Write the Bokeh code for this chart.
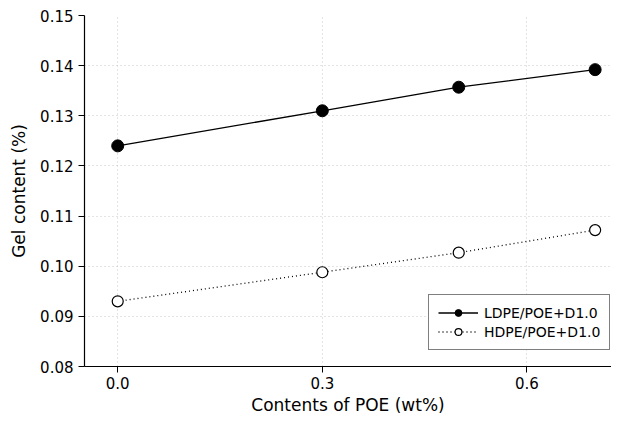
from bokeh.plotting import figure
from bokeh.models import Range1d, FixedTicker, Legend, LegendItem, PrintfTickFormatter
from bokeh.embed import file_html
from bokeh.resources import INLINE

x_vals = [0.0, 0.3, 0.5, 0.7]
ldpe = [0.124, 0.131, 0.1357, 0.1392]
hdpe = [0.093, 0.0988, 0.1027, 0.1072]
x_ticks = [0.0, 0.3, 0.6]
y_ticks = [0.08, 0.09, 0.10, 0.11, 0.12, 0.13, 0.14, 0.15]
labels = ["LDPE/POE+D1.0", "HDPE/POE+D1.0"]

FONT = "DejaVu Sans"

p = figure(width=611, height=417, output_backend="svg", toolbar_location=None,
           x_range=Range1d(-0.0487, 0.724), y_range=Range1d(0.08, 0.15),
           min_border_left=84, min_border_top=15, min_border_right=0, min_border_bottom=46)
p.outline_line_color = None
p.background_fill_color = "white"

for ax in (p.xaxis[0], p.yaxis[0]):
    ax.axis_line_color = "black"
    ax.axis_line_width = 1.2
    ax.major_tick_line_color = "black"
    ax.major_tick_out = 6
    ax.major_tick_in = 0
    ax.minor_tick_line_color = None
    ax.major_label_text_font = FONT
    ax.major_label_text_font_size = "15px"
    ax.major_label_text_color = "black"
    ax.axis_label_text_font = FONT
    ax.axis_label_text_font_size = "17px"
    ax.axis_label_text_font_style = "normal"
    ax.axis_label_text_color = "black"

p.xaxis.ticker = FixedTicker(ticks=x_ticks)
p.xaxis.formatter = PrintfTickFormatter(format="%.1f")
p.yaxis.ticker = FixedTicker(ticks=y_ticks)
p.yaxis.formatter = PrintfTickFormatter(format="%.2f")
p.xaxis.axis_label = "Contents of POE (wt%)"
p.yaxis.axis_label = "Gel content (%)"
p.xaxis.major_label_standoff = 4
p.xaxis.axis_label_standoff = 3
p.yaxis.major_label_standoff = 5
p.yaxis.axis_label_standoff = 8

p.grid.grid_line_color = "#c8c8c8"
p.grid.grid_line_dash = "1 3"
p.grid.grid_line_width = 1

l1 = p.line(x_vals, ldpe, line_color="black", line_width=1.3)
c1 = p.scatter(x_vals, ldpe, marker="circle", size=12, fill_color="black", line_color="black")
l2 = p.line(x_vals, hdpe, line_color="black", line_width=1.3, line_dash="1 3")
c2 = p.scatter(x_vals, hdpe, marker="circle", size=11, fill_color="white", line_color="black", line_width=1.2)

legend = Legend(items=[LegendItem(label=labels[0], renderers=[l1, c1]),
                       LegendItem(label=labels[1], renderers=[l2, c2])],
                location=(344, 16))
legend.label_text_font = FONT
legend.label_text_font_size = "14px"
legend.label_text_color = "black"
legend.border_line_color = "black"
legend.border_line_width = 1
legend.glyph_width = 40
legend.glyph_height = 17
legend.label_height = 17
legend.label_standoff = 6
legend.spacing = 2
legend.padding = 9
legend.margin = 0
legend.background_fill_alpha = 1
p.add_layout(legend, "center")

open("out.html", "w").write(file_html(p, INLINE))
